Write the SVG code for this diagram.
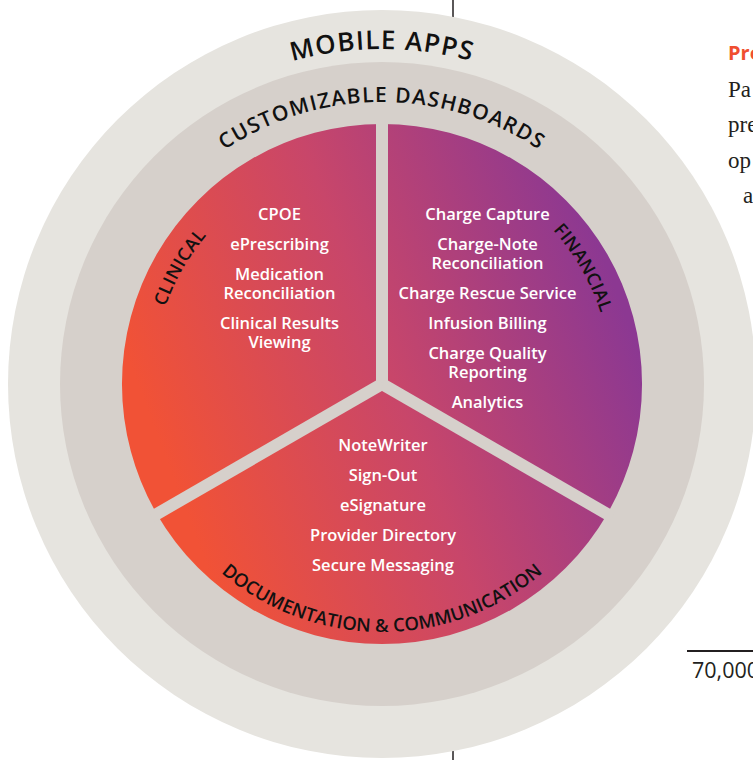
<svg xmlns="http://www.w3.org/2000/svg" width="753" height="760" viewBox="0 0 753 760">
  <defs>
    <linearGradient id="grad" gradientUnits="userSpaceOnUse" x1="170" y1="470" x2="620" y2="300">
      <stop offset="0" stop-color="#f15236"/>
      <stop offset="0.5" stop-color="#c8466a"/>
      <stop offset="1" stop-color="#8c3892"/>
    </linearGradient>
    <path id="p-mobile" d="M 47 384 A 335 335 0 0 1 717 384"/>
    <path id="p-dash" d="M 100 384 A 282 282 0 0 1 664 384"/>
    <path id="p-clin" d="M 182.8 499 A 230 230 0 0 1 382 154"/>
    <path id="p-fin" d="M 382 154 A 230 230 0 0 1 581.2 499"/>
    <path id="p-doc" d="M 134 384 A 248 248 0 0 0 630 384"/>
  </defs>
  <style>
    .item { font-family: "Open Sans", "Noto Sans", sans-serif; font-weight: 600; font-size: 16.5px; fill: #ffffff; text-anchor: middle; }
    .arc { font-family: "Open Sans", "Noto Sans", sans-serif; font-weight: 600; fill: #111111; }
    .div { stroke: #d6d0cb; stroke-width: 12; stroke-linecap: butt; }
    .serif { font-family: "Liberation Serif", serif; font-size: 23px; fill: #231f20; }
  </style>
  <rect width="753" height="760" fill="#ffffff"/>

  <g id="page-lines">
    <line x1="453" y1="0" x2="453" y2="30" stroke="#231f20" stroke-width="1.5"/>
    <line x1="453" y1="740" x2="453" y2="760" stroke="#231f20" stroke-width="1.5"/>
  </g>

  <g id="ring-mobile">
    <circle cx="382" cy="384" r="374" fill="#e6e4df"/>
    <text class="arc" font-size="26" letter-spacing="1.2"><textPath href="#p-mobile" startOffset="50%" text-anchor="middle">MOBILE APPS</textPath></text>
  </g>

  <g id="ring-dashboards">
    <circle cx="382" cy="384" r="322" fill="#d6d0cb"/>
    <text class="arc" font-size="21" letter-spacing="1.3"><textPath href="#p-dash" startOffset="50%" text-anchor="middle">CUSTOMIZABLE DASHBOARDS</textPath></text>
  </g>

  <g id="seg-clinical">
    <path d="M 382 384 L 382 124 A 260 260 0 0 0 156.8 514 Z" fill="url(#grad)"/>
    <text class="arc" font-size="18" letter-spacing="0.5"><textPath href="#p-clin" startOffset="50%" text-anchor="middle">CLINICAL</textPath></text>
    <text class="item" x="279.5" y="219.5">CPOE</text>
    <text class="item" x="279.5" y="249.5">ePrescribing</text>
    <text class="item" x="279.5" y="279.5">Medication</text>
    <text class="item" x="279.5" y="298.5">Reconciliation</text>
    <text class="item" x="279.5" y="328.5">Clinical Results</text>
    <text class="item" x="279.5" y="347.5">Viewing</text>
  </g>

  <g id="seg-financial">
    <path d="M 382 384 L 382 124 A 260 260 0 0 1 607.2 514 Z" fill="url(#grad)"/>
    <text class="arc" font-size="18" letter-spacing="0.3"><textPath href="#p-fin" startOffset="50%" text-anchor="middle">FINANCIAL</textPath></text>
    <text class="item" x="487.5" y="219.5">Charge Capture</text>
    <text class="item" x="487.5" y="249.5">Charge-Note</text>
    <text class="item" x="487.5" y="268.5">Reconciliation</text>
    <text class="item" x="487.5" y="298.5">Charge Rescue Service</text>
    <text class="item" x="487.5" y="328.5">Infusion Billing</text>
    <text class="item" x="487.5" y="358.5">Charge Quality</text>
    <text class="item" x="487.5" y="377.5">Reporting</text>
    <text class="item" x="487.5" y="407.5">Analytics</text>
  </g>

  <g id="seg-documentation">
    <path d="M 382 384 L 156.8 514 A 260 260 0 0 0 607.2 514 Z" fill="url(#grad)"/>
    <text class="arc" font-size="18.5" letter-spacing="0"><textPath href="#p-doc" startOffset="50%" text-anchor="middle">DOCUMENTATION &amp; COMMUNICATION</textPath></text>
    <text class="item" x="383" y="451">NoteWriter</text>
    <text class="item" x="383" y="481">Sign-Out</text>
    <text class="item" x="383" y="511">eSignature</text>
    <text class="item" x="383" y="541">Provider Directory</text>
    <text class="item" x="383" y="571">Secure Messaging</text>
  </g>

  <g id="dividers">
    <line class="div" x1="382" y1="384" x2="382" y2="118"/>
    <line class="div" x1="382" y1="384" x2="612.4" y2="517"/>
    <line class="div" x1="382" y1="384" x2="151.6" y2="517"/>
  </g>

  <g id="side-text">
    <text x="728" y="60" font-family="Open Sans, sans-serif" font-weight="700" font-size="20" fill="#f04e30">Pro</text>
    <text class="serif" x="728" y="97">Pa</text>
    <text class="serif" x="728" y="132">pre</text>
    <text class="serif" x="728" y="168">op</text>
    <text class="serif" x="743" y="203">a</text>
    <line x1="687" y1="651" x2="753" y2="651" stroke="#231f20" stroke-width="2"/>
    <text x="692" y="678" font-family="Open Sans, sans-serif" font-size="21.5" fill="#231f20">70,000</text>
  </g>
</svg>
